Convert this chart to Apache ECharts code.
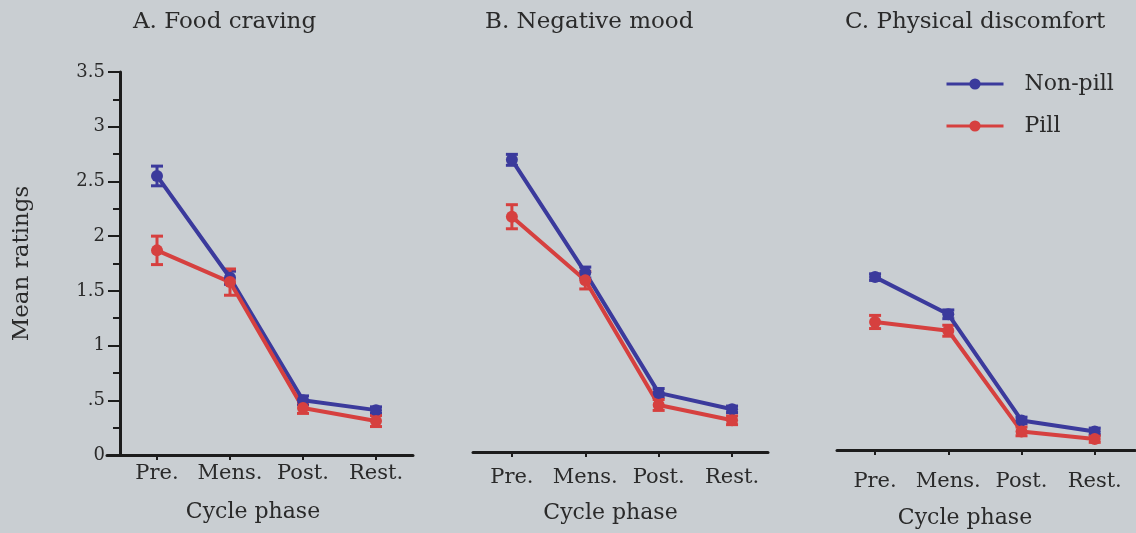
<!DOCTYPE html>
<html>
<head>
<meta charset="utf-8">
<script src="https://cdn.jsdelivr.net/npm/echarts@6/dist/echarts.min.js"></script>
<style>
html,body{margin:0;padding:0;background:#c9ced2;}
#chart{width:1136px;height:533px;}
</style>
</head>
<body>
<div id="chart"></div>
<script>
// ---- data ----
const categories = ['Pre.', 'Mens.', 'Post.', 'Rest.'];
const panelTitles = ['A. Food craving', 'B. Negative mood', 'C. Physical discomfort'];
const yTicks = [0, 0.5, 1, 1.5, 2, 2.5, 3, 3.5];
const yTickLabels = ['0', '.5', '1', '1.5', '2', '2.5', '3', '3.5'];

const foodNonPill = [2.55, 1.62, 0.50, 0.41];
const foodNonPillErr = [0.09, 0.06, 0.04, 0.03];
const foodPill = [1.87, 1.58, 0.43, 0.31];
const foodPillErr = [0.13, 0.12, 0.05, 0.05];

const moodNonPill = [2.67, 1.64, 0.54, 0.39];
const moodNonPillErr = [0.05, 0.05, 0.04, 0.03];
const moodPill = [2.15, 1.57, 0.43, 0.29];
const moodPillErr = [0.11, 0.08, 0.05, 0.04];

const physNonPill = [1.58, 1.24, 0.27, 0.17];
const physNonPillErr = [0.03, 0.04, 0.03, 0.03];
const physPill = [1.17, 1.09, 0.17, 0.10];
const physPillErr = [0.06, 0.05, 0.04, 0.03];

// ---- styling ----
const FONT = 'DejaVu Serif';
const TEXT = '#2a2a2a';
const AXIS = '#1c1c1c';
const BLUE = '#3b3a9c';
const RED = '#d6403f';

const panels = [
  {nonPill: foodNonPill, nonPillErr: foodNonPillErr, pill: foodPill, pillErr: foodPillErr,
   grid: {left: 107, top: 72, width: 306, height: 383}, xmin: -0.685, xmax: 3.507,
   labelMargin: 8, nameGap: 46, namePad: 14, titleLeft: 128},
  {nonPill: moodNonPill, nonPillErr: moodNonPillErr, pill: moodPill, pillErr: moodPillErr,
   grid: {left: 473, top: 69, width: 295, height: 383}, xmin: -0.53, xmax: 3.49,
   labelMargin: 15, nameGap: 50, namePad: 20, titleLeft: 480},
  {nonPill: physNonPill, nonPillErr: physNonPillErr, pill: physPill, pillErr: physPillErr,
   grid: {left: 837, top: 67, width: 298, height: 383}, xmin: -0.52, xmax: 3.55,
   labelMargin: 21, nameGap: 57, namePad: 42, titleLeft: 840}
];

const idx = categories.map((c, i) => i);

function errRender(color) {
  return function (params, api) {
    const x = api.value(0);
    const lo = api.coord([x, api.value(1)]);
    const hi = api.coord([x, api.value(2)]);
    const w = 6;
    const st = {stroke: color, lineWidth: 3};
    return {
      type: 'group',
      children: [
        {type: 'line', shape: {x1: lo[0], y1: lo[1], x2: hi[0], y2: hi[1]}, style: st},
        {type: 'line', shape: {x1: hi[0] - w, y1: hi[1], x2: hi[0] + w, y2: hi[1]}, style: st},
        {type: 'line', shape: {x1: lo[0] - w, y1: lo[1], x2: lo[0] + w, y2: lo[1]}, style: st}
      ]
    };
  };
}

const grids = [], xAxes = [], yAxes = [], series = [], titles = [];
panels.forEach((p, k) => {
  grids.push(Object.assign({containLabel: false, outerBoundsMode: 'none'}, p.grid));
  titles.push({text: panelTitles[k], left: p.titleLeft, top: 6,
    textStyle: {fontFamily: FONT, fontSize: 23, fontWeight: 'normal', color: TEXT}});
  xAxes.push({
    type: 'value', gridIndex: k, min: p.xmin, max: p.xmax,
    name: 'Cycle phase', nameLocation: 'middle', nameGap: p.nameGap,
    nameTextStyle: {fontFamily: FONT, fontSize: 22, color: TEXT, padding: [0, p.namePad, 0, 0]},
    axisLine: {show: true, onZero: false, lineStyle: {color: AXIS, width: 3}},
    axisTick: {show: true, customValues: idx, length: 5, lineStyle: {color: AXIS, width: 2}},
    axisLabel: {customValues: idx, margin: p.labelMargin, fontFamily: FONT, fontSize: 21, color: TEXT,
      formatter: v => categories[Math.round(v)]},
    splitLine: {show: false}
  });
  yAxes.push(k === 0 ? {
    type: 'value', gridIndex: k, min: 0, max: 3.5, interval: 0.5, offset: -13,
    name: 'Mean ratings', nameLocation: 'middle', nameGap: 86,
    nameTextStyle: {fontFamily: FONT, fontSize: 23, color: TEXT},
    axisLine: {show: true, onZero: false, lineStyle: {color: AXIS, width: 3}},
    axisTick: {show: true, length: 12, lineStyle: {color: AXIS, width: 2}},
    minorTick: {show: true, splitNumber: 2, length: 7, lineStyle: {color: AXIS, width: 2}},
    axisLabel: {margin: 15, fontFamily: FONT, fontSize: 18, color: TEXT,
      formatter: v => yTickLabels[yTicks.indexOf(v)] !== undefined ? yTickLabels[yTicks.indexOf(v)] : String(v)},
    splitLine: {show: false}, minorSplitLine: {show: false}
  } : {
    type: 'value', gridIndex: k, min: 0, max: 3.5, interval: 0.5, show: false,
    axisLine: {onZero: false}, splitLine: {show: false}
  });

  const groups = [
    {name: 'Non-pill', vals: p.nonPill, errs: p.nonPillErr, color: BLUE},
    {name: 'Pill', vals: p.pill, errs: p.pillErr, color: RED}
  ];
  groups.forEach(g => {
    series.push({
      type: 'custom', name: g.name + ' SE', xAxisIndex: k, yAxisIndex: k,
      renderItem: errRender(g.color), silent: true,
      encode: {x: 0, y: [1, 2]},
      data: g.vals.map((v, i) => [i, v - g.errs[i], v + g.errs[i]]),
      z: 2
    });
    series.push({
      type: 'line', name: g.name, xAxisIndex: k, yAxisIndex: k,
      data: g.vals.map((v, i) => [i, v]),
      symbol: 'circle', symbolSize: 12, showSymbol: true,
      lineStyle: {color: g.color, width: 4},
      itemStyle: {color: g.color},
      z: 3
    });
  });
});

const chart = echarts.init(document.getElementById('chart'));
chart.setOption({
  backgroundColor: '#c9ced2',
  animation: false,
  title: titles,
  legend: {
    data: ['Non-pill', 'Pill'], orient: 'vertical', left: 940, top: 68,
    itemWidth: 57, itemHeight: 14, itemGap: 20,
    lineStyle: {width: 3},
    textStyle: {fontFamily: FONT, fontSize: 22, color: TEXT, padding: [0, 0, 0, 16]}
  },
  grid: grids,
  xAxis: xAxes,
  yAxis: yAxes,
  series: series
});
</script>
</body>
</html>
